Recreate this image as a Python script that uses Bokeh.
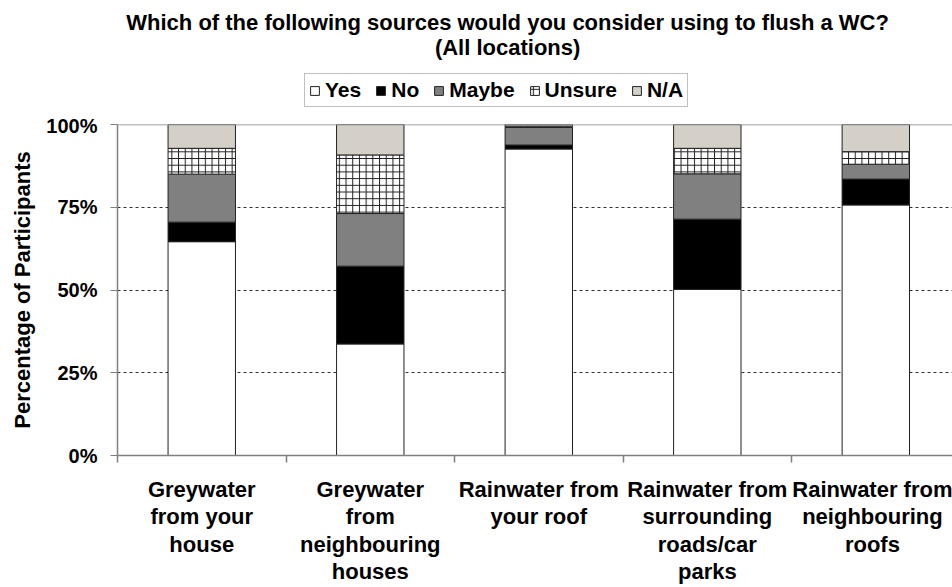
import numpy as np
from bokeh.plotting import figure
from bokeh.layouts import column
from bokeh.models import Range1d, FixedTicker, Legend, LegendItem, Label, Span
from bokeh.embed import file_html
from bokeh.resources import INLINE

# ---- data ----
categories = [
    "Greywater\nfrom your\nhouse",
    "Greywater\nfrom\nneighbouring\nhouses",
    "Rainwater from\nyour roof",
    "Rainwater from\nsurrounding\nroads/car\nparks",
    "Rainwater from\nneighbouring\nroofs",
]
series_names = ["Yes", "No", "Maybe", "Unsure", "N/A"]
yes = [64.6, 33.7, 92.6, 50.2, 75.7]
no = [5.9, 23.5, 1.2, 21.2, 7.8]
maybe = [14.5, 15.9, 5.3, 13.7, 4.5]
unsure = [7.8, 17.7, 0.4, 7.7, 3.8]
na = [7.2, 9.2, 0.5, 7.2, 8.2]
y_ticks = [0, 25, 50, 75, 100]
y_tick_labels = ["0%", "25%", "50%", "75%", "100%"]
title_lines = ["Which of the following sources would you consider using to flush a WC?",
               "(All locations)"]

# ---- styles ----
fills = ["white", "black", "#808080", "white", "#d4d0c8"]
hatches = [None, None, None, "+", None]
FONT = "Liberation Sans"
W = 952
HEAD_H = 114
MAIN_H = 587 - HEAD_H


def bar_style(fc, hp):
    kw = dict(fill_color=fc, line_color="#202020", line_width=1)
    if hp:
        kw.update(hatch_pattern=hp, hatch_color="#202020", hatch_scale=6.7, hatch_weight=1)
    return kw


# ---------------- main chart ----------------
xr = Range1d(0, 4.955)
p = figure(width=W, height=MAIN_H, output_backend="svg", toolbar_location=None,
           x_range=xr, y_range=Range1d(0, 100),
           min_border_left=117, min_border_top=10, min_border_right=0,
           min_border_bottom=0, background_fill_color="white",
           border_fill_color="white", outline_line_color=None)

x = [i + 0.5 for i in range(len(categories))]
bottom = np.zeros(len(categories))
for name, vals, fc, hp in zip(series_names, [yes, no, maybe, unsure, na], fills, hatches):
    top = bottom + np.array(vals)
    p.vbar(x=x, bottom=bottom.tolist(), top=top.tolist(), width=0.4, **bar_style(fc, hp))
    bottom = top

p.add_layout(Span(location=100, dimension="width", line_color="#808080", line_width=1.5))

p.xgrid.visible = False
p.ygrid.ticker = FixedTicker(ticks=[25, 50, 75])
p.ygrid.grid_line_color = "#303030"
p.ygrid.grid_line_dash = "3 3"
p.ygrid.grid_line_width = 1

p.yaxis.ticker = FixedTicker(ticks=y_ticks)
p.yaxis.major_label_overrides = {t: l for t, l in zip(y_ticks, y_tick_labels)}
p.yaxis.minor_tick_line_color = None
p.yaxis.major_tick_in = 0
p.yaxis.major_tick_out = 7
p.yaxis.major_label_standoff = 13
p.yaxis.axis_line_color = "#808080"
p.yaxis.axis_line_width = 1.5
p.yaxis.major_tick_line_color = "#808080"
p.yaxis.major_label_text_font = FONT
p.yaxis.major_label_text_font_style = "bold"
p.yaxis.major_label_text_font_size = "20px"
p.yaxis.major_label_text_color = "black"
p.yaxis.axis_label = "Percentage of Participants"
p.yaxis.axis_label_text_font = FONT
p.yaxis.axis_label_text_font_style = "bold"
p.yaxis.axis_label_text_font_size = "22px"
p.yaxis.axis_label_text_color = "black"
p.yaxis.axis_label_standoff = 8

p.xaxis.ticker = FixedTicker(ticks=x, minor_ticks=list(range(len(categories) + 1)))
p.xaxis.major_label_overrides = {xv: c for xv, c in zip(x, categories)}
p.xaxis.major_tick_in = 0
p.xaxis.major_tick_out = 0
p.xaxis.minor_tick_in = 0
p.xaxis.minor_tick_out = 7
p.xaxis.minor_tick_line_color = "#808080"
p.xaxis.minor_tick_line_width = 1.5
p.xaxis.axis_line_color = "#808080"
p.xaxis.axis_line_width = 1.5
p.xaxis.major_label_standoff = 14
p.xaxis.major_label_text_font = FONT
p.xaxis.major_label_text_font_style = "bold"
p.xaxis.major_label_text_font_size = "22px"
p.xaxis.major_label_text_color = "black"
p.xaxis.major_label_text_line_height = 1.10

# ---------------- header: title + legend ----------------
h = figure(width=W, height=HEAD_H, output_backend="svg", toolbar_location=None,
           x_range=xr, y_range=Range1d(0, HEAD_H),
           x_axis_type=None, y_axis_type=None, min_border=0,
           outline_line_color=None, background_fill_color="white",
           border_fill_color="white")
h.grid.visible = False

items = []
for name, fc, hp, vals in zip(series_names, fills, hatches, [yes, no, maybe, unsure, na]):
    r = h.vbar(x=x[:1], top=vals[:1], width=0.4, visible=False, **bar_style(fc, hp))
    items.append(LegendItem(label=name, renderers=[r]))

title_x = 2.315
for txt, yy in zip(title_lines, [92, 67]):
    h.add_layout(Label(x=title_x, y=yy, text=txt, text_align="center",
                       text_baseline="alphabetic", text_font=FONT,
                       text_font_style="bold", text_font_size="22px",
                       text_color="black"))

legend = Legend(items=items, orientation="horizontal", location=(187, 7),
                glyph_width=11, glyph_height=11, label_standoff=5, spacing=14,
                padding=4, margin=0, label_text_font=FONT,
                label_text_font_style="bold", label_text_font_size="21px",
                label_text_color="black",
                label_height=22, border_line_color="#808080", border_line_width=1.5,
                background_fill_color="white", background_fill_alpha=1)
h.add_layout(legend)

layout = column(h, p, spacing=0)
open("out.html", "w").write(file_html(layout, INLINE))
